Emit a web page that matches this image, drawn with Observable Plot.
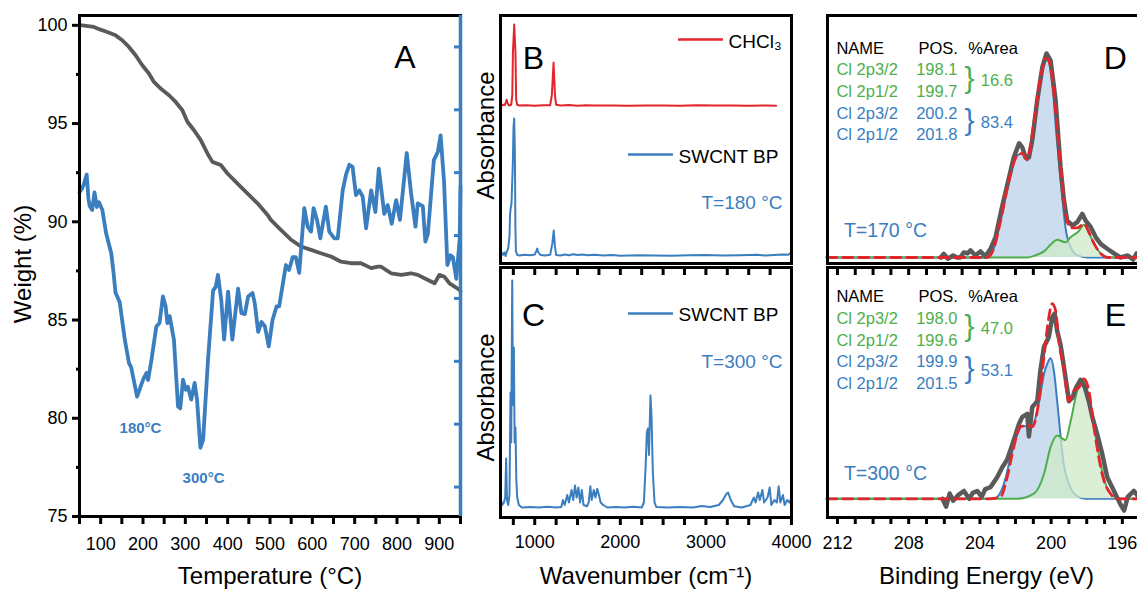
<!DOCTYPE html>
<html><head><meta charset="utf-8">
<script src="https://cdn.jsdelivr.net/npm/d3@7"></script>
<script src="https://cdn.jsdelivr.net/npm/@observablehq/plot@0.6"></script>
<style>
html,body{margin:0;padding:0;background:#fff;overflow:hidden;}
#wrap{position:relative;width:1137px;height:589px;overflow:hidden;background:#fff;}
</style></head><body><div id="wrap"></div>
<script>
// ---------- Panel A: TGA (weight %) and DTG (blue, right axis) ----------
const tgaTemp   = [50,56.3,83.9,99.7,115.5,135.2,151,166.7,182.5,198.3,214,225.9,241.7,261.4,277.2,293,304.9,320.5,336.4,352.2,364,383.7,399.6,415.2,431,450.7,470.6,494.3,502,525,549,573,597,620,644,668,691,715,739,755,762,786,810,833,849,873,889,900,912,924,936,948,950];
const tgaWeight = [100.0,100.0,99.92,99.78,99.66,99.49,99.24,98.9,98.48,97.97,97.55,97.12,96.78,96.44,96.1,95.68,95.09,94.66,94.16,93.48,93.05,92.89,92.46,92.12,91.78,91.36,90.94,90.35,90.1,89.6,89.1,88.74,88.57,88.4,88.23,87.97,87.89,87.89,87.64,87.72,87.72,87.38,87.3,87.38,87.3,87.04,86.87,87.3,87.2,86.87,86.7,86.53,86.45];
const dtgTemp   = [50,56,60,67,71,74,80,85.5,91,96,104,113,125,130,135,145,157,167,172,186,200,208,212,220,231.5,239,247,253.5,257.5,263,273,282.7,288,294.5,301,306,314,322,327.6,335.6,342,353.6,365.6,372,377,385,391.6,401,411,424.6,432.6,440.5,448.4,458.7,464,472,480,488,497,506,515.6,521.7,537.6,545,553.4,561,569,581,589,597,603,611,619,632,640,652,660,671.7,679.6,687.4,695,703,711,719,727,739,749,757,770,778,787.6,798,807,823,833,843.6,849,861,867,873,887,896.6,903,911,919,926.5,932,940,948,950];
const dtgSignal = [91.5,91.7,91.9,92.4,91.2,90.8,90.6,91.5,90.75,91.0,90.6,89.4,88.4,87.5,86.4,85.9,84.0,82.8,82.6,81.1,81.95,82.3,81.95,82.98,84.67,84.85,86.2,85.7,84.84,85.2,84.0,80.6,80.5,81.96,81.45,81.6,80.95,81.8,80.95,78.5,78.9,82.98,86.5,86.7,87.3,86.0,84.0,86.45,84.0,86.6,85.35,85.3,86.2,86.37,85.86,84.4,84.9,84.67,83.66,85.0,85.7,85.7,87.8,87.55,88.2,88.2,87.4,90.7,89.75,89.5,90.7,90.1,89.16,90.77,89.5,89.16,89.16,91.6,92.4,92.9,92.8,91.36,91.6,91.28,89.67,91.6,90.5,92.7,90.4,90.85,89.9,91.1,90.1,93.5,91.5,89.75,90.94,90.8,88.99,89.4,93.14,93.56,94.4,92.1,87.8,88.3,88.2,87.1,89.1,91.8];
const tempTicks  = d3.range(50, 951, 50);
const tempLabels = [100,200,300,400,500,600,700,800,900];
const weightTicks = [75,80,85,90,95,100];
const weightMinor = [77.5,82.5,87.5,92.5,97.5];
const dtgAxisTicks = [98.9,95.7,92.5,89.3,86.1,82.9,79.7,76.5];

// ---------- Panels B, C: FTIR ----------
const chclWn  = [612,630,650,662,672,684,700,725,738,745,760,775,783,795,820,900,1000,1100,1180,1200,1220,1236,1250,1300,1400,1500,1600,1700,1900,2100,2300,2500,2700,2900,3100,3300,3500,3700,3820];
const chclAbs = [.637,.64,.639,.65,.66,.645,.637,.64,.68,.85,.964,.85,.66,.64,.637,.638,.636,.638,.638,.68,.81,.68,.64,.637,.639,.636,.638,.637,.637,.636,.637,.637,.636,.638,.637,.637,.636,.637,.636];
const bp180Wn  = [605,615,630,645,660,675,690,705,712,720,728,744,752,760,768,774,780,795,820,880,950,1000,1018,1029,1040,1070,1120,1180,1205,1222,1236,1250,1300,1350,1400,1450,1500,1560,1620,1700,1800,1900,2000,2200,2400,2600,2800,3000,3200,3400,3600,3700,3800,3900,3960,4000];
const bp180Abs = [.05,.04,.035,.045,.03,.05,.06,.11,.2,.226,.24,.40,.55,.585,.45,.15,.05,.035,.032,.035,.033,.036,.05,.06,.045,.034,.032,.035,.08,.133,.07,.034,.032,.036,.033,.037,.034,.036,.033,.035,.032,.034,.031,.033,.032,.031,.033,.034,.032,.033,.035,.032,.034,.036,.035,.045];
const bp300Wn  = [605,620,640,655,666,676,690,705,717,725,737,746,756,765,775,785,795,815,850,950,1050,1150,1250,1310,1330,1350,1380,1400,1430,1450,1470,1490,1510,1530,1550,1570,1610,1630,1650,1665,1690,1710,1730,1750,1770,1800,1850,1950,2050,2150,2250,2275,2295,2310,2322,2335,2352,2365,2380,2400,2420,2550,2700,2850,2950,3050,3150,3200,3240,3260,3290,3330,3420,3520,3560,3580,3610,3630,3660,3680,3720,3745,3765,3800,3830,3850,3870,3900,3920,3950,3975,4000];
const bp300Abs = [.07,.05,.06,.08,.236,.07,.05,.09,.50,.30,.948,.45,.68,.30,.36,.15,.08,.05,.04,.042,.04,.043,.04,.042,.07,.05,.09,.06,.11,.07,.128,.08,.12,.06,.11,.05,.045,.06,.125,.07,.11,.08,.115,.09,.06,.05,.04,.042,.04,.043,.04,.06,.2,.34,.356,.25,.488,.40,.18,.06,.042,.04,.042,.04,.046,.042,.05,.07,.095,.10,.07,.045,.04,.05,.08,.06,.10,.07,.11,.06,.08,.12,.05,.07,.06,.125,.06,.09,.05,.07,.06,.075];
const wnTicks  = d3.range(750, 4001, 250);
const wnLabels = [1000,2000,3000,4000];

// ---------- Panels D, E: XPS Cl 2p ----------
const dRawBE  = [206.2,206.03,205.8,205.5,205.3,205.1,204.9,204.7,204.53,204.25,203.97,203.7,203.4,203.12,202.75,202.37,202.1,201.8,201.62,201.44,201.25,201.06,200.78,200.5,200.26,200.03,199.75,199.47,199.28,199.1,198.8,198.53,198.25,198.06,197.78,197.5,197.22,196.85,196.47,196.1,195.7,195.4,195.2,195.0];
const dRawI   = [0,.018,-.006,.01,0,0,.025,.02,.035,.01,.03,.005,.043,.10,.25,.39,.49,.56,.54,.49,.49,.575,.77,.93,1.0,.965,.77,.44,.28,.18,.157,.173,.214,.18,.15,.10,.067,.043,.02,0,.01,-.01,.02,.005];
const dBlueBE = [212.6,203.6,203.2,202.84,202.28,201.9,201.6,201.35,200.97,200.6,200.3,200.2,199.95,199.67,199.38,199.2,198.9,198.5,198.0,194.7];
const dBlueI  = [0,0,.05,.18,.41,.50,.508,.475,.655,.868,.966,.966,.86,.57,.30,.15,.05,.01,0,0];
const dGreenBE = [212.6,201.35,200.9,200.4,199.95,199.67,199.2,198.9,198.44,198.16,197.88,197.6,197.22,196.8,194.7];
const dGreenI  = [0,0,.01,.03,.07,.087,.075,.1,.13,.16,.12,.07,.02,0,0];
const dFitBE = [212.6,203.6,203.2,202.84,202.28,201.9,201.6,201.35,200.97,200.6,200.3,200.2,199.95,199.67,199.38,199.2,198.9,198.53,198.16,197.88,197.6,197.22,196.8,194.7];
const dFitI  = [0,0,.05,.18,.41,.50,.51,.48,.66,.88,.975,.975,.89,.64,.37,.22,.145,.145,.165,.125,.07,.02,0,0];

const eRawBE = [206.1,205.9,205.7,205.5,205.2,204.9,204.6,204.4,204.15,203.9,203.7,203.4,203.03,202.75,202.47,202.1,201.8,201.62,201.34,201.25,201.06,200.78,200.6,200.4,200.13,199.94,199.8,199.66,199.47,199.19,199.0,198.8,198.6,198.35,198.1,197.88,197.69,197.41,197.13,196.85,196.47,196.1,195.9,195.7,195.35,195.0];
const eRawI  = [0,-.04,.027,-.01,.02,.04,0,.03,.04,.01,.05,.06,.11,.16,.2,.30,.385,.42,.435,.32,.47,.50,.66,.78,.83,.93,.95,.86,.79,.62,.50,.52,.57,.61,.57,.50,.42,.33,.23,.11,.04,-.03,-.06,.01,.04,0];
const eBlueBE = [212.6,203.2,202.65,202.28,201.9,201.62,201.34,201.06,200.69,200.4,200.18,200.03,199.85,199.66,199.47,199.3,199.0,198.6,198.1,194.7];
const eBlueI  = [0,0,.077,.21,.33,.375,.37,.375,.49,.64,.70,.72,.66,.50,.32,.18,.077,.017,0,0];
const eGreenBE = [212.6,201.9,200.97,200.4,200.03,199.66,199.38,199.2,198.9,198.53,198.25,198.06,197.78,197.5,197.22,196.94,196.57,196.1,194.7];
const eGreenI  = [0,0,.026,.128,.265,.325,.31,.30,.40,.555,.61,.59,.45,.32,.18,.077,.017,0,0];
const eFitBE = [212.6,203.5,202.84,202.47,202.1,201.72,201.34,201.06,200.69,200.4,200.13,199.94,199.75,199.57,199.3,199.0,198.72,198.44,198.16,197.88,197.6,197.32,197.04,196.66,196.3,194.7];
const eFitI  = [0,0,.01,.11,.265,.37,.375,.37,.50,.73,.93,1.0,.965,.81,.675,.50,.555,.57,.615,.555,.37,.21,.095,.026,0,0];
const beTicks  = d3.range(195, 213, 1);
const beLabels = [212,208,204,200,196];

const compNames = ["Cl 2p3/2","Cl 2p1/2","Cl 2p3/2","Cl 2p1/2"];
const dPositions = ["198.1","199.7","200.2","201.8"];
const dAreas = ["16.6","83.4"];
const ePositions = ["198.0","199.6","199.9","201.5"];
const eAreas = ["47.0","53.1"];

// ---------- rendering ----------
const BLUE = "#3a7ebf", GRAY = "#5a5a5a", RED = "#e3262b", GREEN = "#4fae4b";
const FILLB = "#c2d7ec", FILLG = "#cfe9c9";
const FONT = '"Liberation Sans", Arial, Helvetica, sans-serif';
const STYLE = {fontFamily: FONT, fontSize: "18px", background: "transparent", overflow: "visible", color: "#000", maxWidth: "none"};
const wrap = document.getElementById("wrap");
function place(svg, left, top) {
  svg.style.position = "absolute"; svg.style.left = left + "px"; svg.style.top = top + "px";
  wrap.appendChild(svg);
}
const pairs = (xs, ys) => xs.map((x, i) => ({x, y: ys[i]}));
const yTitle = (t, dx, dy) => Plot.text([t], {frameAnchor: "left", textAnchor: "middle", lineAnchor: "middle", dx, dy, rotate: -90, fontSize: 24});
const xTitle = (t, dy) => Plot.text([t], {frameAnchor: "bottom", textAnchor: "middle", lineAnchor: "middle", dy, fontSize: 24});

// Panel A
place(Plot.plot({
  width: 470, height: 589, marginLeft: 79, marginRight: 10, marginTop: 15, marginBottom: 73,
  style: STYLE,
  x: {domain: [50, 950]}, y: {domain: [75, 100.5]},
  marks: [
    Plot.axisX({ticks: tempTicks, tickSize: 8, tickPadding: 13, strokeWidth: 3, fontSize: 18, label: null,
      tickFormat: d => tempLabels.includes(d) ? String(d) : ""}),
    Plot.axisY({ticks: weightTicks, tickSize: 7, tickPadding: 5, strokeWidth: 3, fontSize: 18, label: null}),
    Plot.axisY({ticks: weightMinor, tickSize: 3, strokeWidth: 3, tickFormat: () => "", label: null}),
    Plot.axisY({anchor: "right", ticks: dtgAxisTicks, tickSize: -7, stroke: BLUE, strokeWidth: 3, tickFormat: () => "", label: null}),
    Plot.line(pairs(tgaTemp, tgaWeight), {x: "x", y: "y", stroke: GRAY, strokeWidth: 3.8, strokeLinejoin: "round"}),
    Plot.line(pairs(dtgTemp, dtgSignal), {x: "x", y: "y", stroke: BLUE, strokeWidth: 3.8, strokeLinejoin: "round"}),
    Plot.frame({stroke: "#000", strokeWidth: 3}),
    Plot.ruleX([950], {stroke: BLUE, strokeWidth: 3.5}),
    Plot.text(["A"], {x: 819, y: 98.33, fontSize: 32}),
    Plot.text(["180°C"], {x: 194, y: 79.51, fontSize: 15, fontWeight: "bold", fill: BLUE}),
    Plot.text(["300°C"], {x: 343, y: 76.97, fontSize: 15, fontWeight: "bold", fill: BLUE}),
    yTitle("Weight (%)", -56, -2),
    xTitle("Temperature (°C)", 60)
  ]
}), 0, 0);

// Panel B
place(Plot.plot({
  width: 340, height: 270, marginLeft: 30, marginRight: 19, marginTop: 15, marginBottom: 7,
  style: STYLE,
  x: {domain: [600, 4000], axis: null}, y: {domain: [0, 1], axis: null},
  marks: [
    Plot.line(pairs(chclWn, chclAbs), {x: "x", y: "y", stroke: RED, strokeWidth: 2}),
    Plot.line(pairs(bp180Wn, bp180Abs), {x: "x", y: "y", stroke: BLUE, strokeWidth: 2}),
    Plot.frame({stroke: "#000", strokeWidth: 3}),
    Plot.ruleY([0.903], {x1: 2680, x2: 3205, stroke: RED, strokeWidth: 2.5}),
    Plot.ruleY([0.44], {x1: 2096, x2: 2621, stroke: BLUE, strokeWidth: 2.5}),
    Plot.text(["CHCl₃"], {x: 3264, y: 0.892, textAnchor: "start", fontSize: 19}),
    Plot.text(["SWCNT BP"], {x: 2680, y: 0.428, textAnchor: "start", fontSize: 19}),
    Plot.text(["T=180 °C"], {x: 3895, y: 0.246, textAnchor: "end", fontSize: 19, fill: BLUE}),
    Plot.text(["B"], {x: 986, y: 0.827, fontSize: 32}),
    yTitle("Absorbance", -14, -4)
  ]
}), 470, 0);

// Panel C
place(Plot.plot({
  width: 340, height: 329, marginLeft: 30, marginRight: 19, marginTop: 7, marginBottom: 72,
  style: STYLE,
  x: {domain: [600, 4000]}, y: {domain: [0, 1], axis: null},
  marks: [
    Plot.axisX({ticks: wnTicks, tickSize: 8, tickPadding: 10, strokeWidth: 3, fontSize: 18, label: null,
      tickFormat: d => wnLabels.includes(d) ? String(d) : ""}),
    Plot.axisX({anchor: "top", ticks: wnTicks, tickSize: -7, strokeWidth: 3, tickFormat: () => "", label: null}),
    Plot.line(pairs(bp300Wn, bp300Abs), {x: "x", y: "y", stroke: BLUE, strokeWidth: 2}),
    Plot.frame({stroke: "#000", strokeWidth: 3}),
    Plot.ruleY([0.816], {x1: 2096, x2: 2621, stroke: BLUE, strokeWidth: 2.5}),
    Plot.text(["SWCNT BP"], {x: 2680, y: 0.812, textAnchor: "start", fontSize: 19}),
    Plot.text(["T=300 °C"], {x: 3895, y: 0.624, textAnchor: "end", fontSize: 19, fill: BLUE}),
    Plot.text(["C"], {x: 986, y: 0.809, fontSize: 32}),
    yTitle("Absorbance", -14, 5),
    xTitle("Wavenumber (cm⁻¹)", 59)
  ]
}), 470, 260);

function xpsMarks(raw, blue, green, fit) {
  return [
    Plot.areaY(blue, {x: "x", y: "y", fill: FILLB, fillOpacity: 0.85, curve: "monotone-x"}),
    Plot.line(blue, {x: "x", y: "y", stroke: BLUE, strokeWidth: 2, curve: "monotone-x"}),
    Plot.areaY(green, {x: "x", y: "y", fill: FILLG, fillOpacity: 0.75, curve: "monotone-x"}),
    Plot.line(green, {x: "x", y: "y", stroke: GREEN, strokeWidth: 2, curve: "monotone-x"}),
    Plot.line(raw, {x: "x", y: "y", stroke: GRAY, strokeWidth: 4.5, strokeLinejoin: "round"}),
    Plot.line(fit, {x: "x", y: "y", stroke: RED, strokeWidth: 2.8, strokeDasharray: "10,6", curve: "monotone-x"})
  ];
}
function tableMarks(positions, areas, rowsY, headY, areaY) {
  const cols = [GREEN, GREEN, BLUE, BLUE];
  return [
    Plot.text(["NAME"], {x: 212.06, y: headY, textAnchor: "start", fontSize: 16.5}),
    Plot.text(["POS."], {x: 207.45, y: headY, textAnchor: "start", fontSize: 16.5}),
    Plot.text(["%Area"], {x: 204.65, y: headY, textAnchor: "start", fontSize: 16.5}),
    Plot.text(compNames, {x: 212.06, y: (d, i) => rowsY[i], textAnchor: "start", fontSize: 16.5, fill: (d, i) => cols[i]}),
    Plot.text(positions, {x: 205.26, y: (d, i) => rowsY[i], textAnchor: "end", fontSize: 16.5, fill: (d, i) => cols[i]}),
    Plot.text(["}", "}"], {x: 204.59, y: (d, i) => areaY[i] + 0.012, fontSize: 30, fill: (d, i) => i ? BLUE : GREEN}),
    Plot.text(areas, {x: 203.95, y: (d, i) => areaY[i], textAnchor: "start", fontSize: 16.5, fill: (d, i) => i ? BLUE : GREEN})
  ];
}

// Panel D
place(Plot.plot({
  width: 345, height: 270, marginLeft: 17, marginRight: 10, marginTop: 15, marginBottom: 7,
  style: STYLE,
  x: {domain: [212.56, 194.7], axis: null}, y: {domain: [-0.0294, 1.186], axis: null},
  marks: [
    ...xpsMarks(pairs(dRawBE, dRawI), pairs(dBlueBE, dBlueI), pairs(dGreenBE, dGreenI), pairs(dFitBE, dFitI)),
    Plot.frame({stroke: "#000", strokeWidth: 3}),
    ...tableMarks(dPositions, dAreas, [.918, .811, .706, .600], 1.025, [.864, .66]),
    Plot.text(["T=170 °C"], {x: 211.64, y: 0.130, textAnchor: "start", fontSize: 19.5, fill: BLUE}),
    Plot.text(["D"], {x: 196.39, y: 0.976, fontSize: 32})
  ]
}), 810, 0);

// Panel E
place(Plot.plot({
  width: 345, height: 329, marginLeft: 17, marginRight: 10, marginTop: 7, marginBottom: 72,
  style: STYLE,
  x: {domain: [212.56, 194.7]}, y: {domain: [-0.096, 1.186], axis: null},
  marks: [
    Plot.axisX({ticks: beTicks, tickSize: 7, tickPadding: 12, strokeWidth: 3, fontSize: 18, label: null,
      tickFormat: d => beLabels.includes(d) ? String(d) : ""}),
    Plot.axisX({anchor: "top", ticks: beTicks, tickSize: -7, strokeWidth: 3, tickFormat: () => "", label: null}),
    ...xpsMarks(pairs(eRawBE, eRawI), pairs(eBlueBE, eBlueI), pairs(eGreenBE, eGreenI), pairs(eFitBE, eFitI)),
    Plot.frame({stroke: "#000", strokeWidth: 3}),
    ...tableMarks(ePositions, eAreas, [.925, .813, .702, .591], 1.035, [.873, .659]),
    Plot.text(["T=300 °C"], {x: 211.64, y: 0.126, textAnchor: "start", fontSize: 19.5, fill: BLUE}),
    Plot.text(["E"], {x: 196.39, y: 0.941, fontSize: 32}),
    xTitle("Binding Energy (eV)", 59)
  ]
}), 810, 260);
</script>
</body></html>
